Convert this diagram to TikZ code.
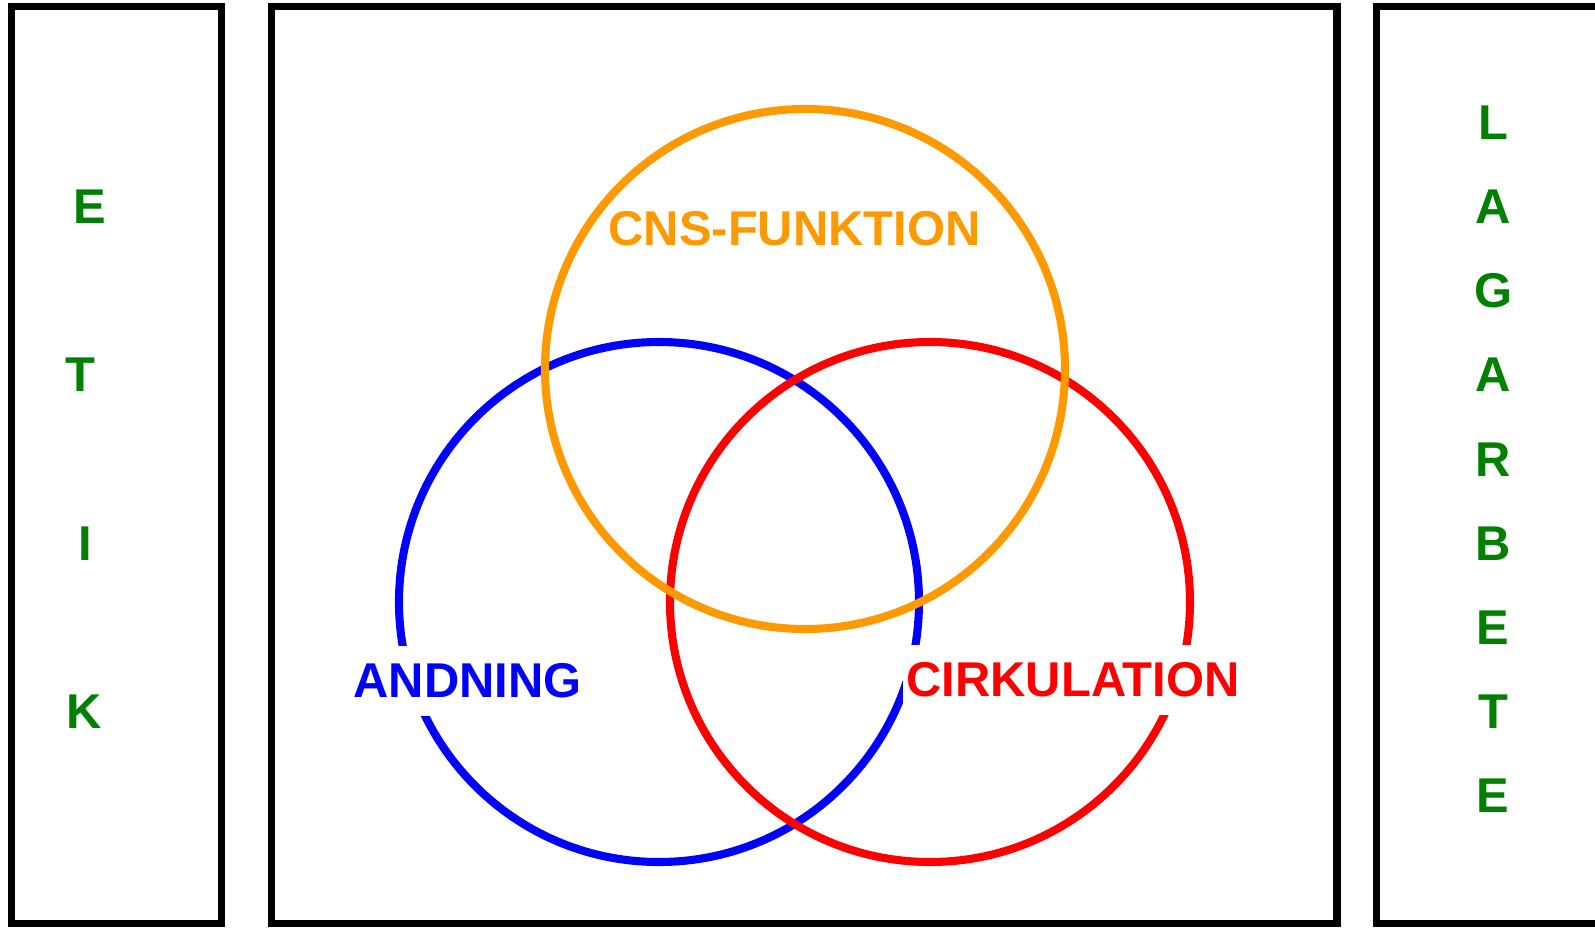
\documentclass[tikz,border=0pt]{standalone}
\usepackage{fontspec}
\setmainfont{Liberation Sans}
\definecolor{etikgreen}{RGB}{0,128,0}
\definecolor{cnsorange}{RGB}{255,153,0}
\begin{document}
\begin{tikzpicture}[scale=.2,
  frame/.style={line width=4.1pt},
  ring/.style={line width=4.6pt},
  lbl/.style={font=\fontsize{27.8}{30}\selectfont\bfseries, inner xsep=2pt, inner ysep=10pt},
  ltr/.style={font=\fontsize{27.8}{30}\selectfont\bfseries, etikgreen, inner sep=0pt}]
\clip (0,0) rectangle (159.5,92.7);
\draw[frame] (1.15,0.35) rectangle (22.15,92.05);
\draw[frame] (27.15,0.35) rectangle (133.7,92.05);
\draw[frame] (137.65,0.35) rectangle (170,92.05);
\coordinate (cand) at (65.9,32.5);
\coordinate (cirk) at (93.0,32.5);
\coordinate (ccns) at (80.5,55.8);
\draw[ring, blue] (cand) circle (26);
\draw[ring, red] (cirk) circle (26);
\draw[ring, cnsorange] (ccns) circle (26);
\node[lbl, cnsorange] (lcns) at (79.45,69.85) {CNS-FUNKTION};
\node[lbl, blue, fill=white] (land) at (46.75,24.6) {ANDNING};
\node[lbl, red, fill=white] (lcirk) at (107.3,24.7) {CIRKULATION};
\node[ltr] (etik0) at (8.97,72.0) {E};
\node[ltr] (etik1) at (8.05,55.2) {T};
\node[ltr] (etik2) at (8.55,38.3) {I};
\node[ltr] (etik3) at (8.4,21.5) {K};
\node[ltr] (lag0) at (149.3,80.4) {L};
\node[ltr] (lag1) at (149.3,72.0) {A};
\node[ltr] (lag2) at (149.3,63.6) {G};
\node[ltr] (lag3) at (149.3,55.2) {A};
\node[ltr] (lag4) at (149.3,46.75) {R};
\node[ltr] (lag5) at (149.3,38.3) {B};
\node[ltr] (lag6) at (149.3,29.9) {E};
\node[ltr] (lag7) at (149.3,21.5) {T};
\node[ltr] (lag8) at (149.3,13.1) {E};
\end{tikzpicture}
\end{document}
